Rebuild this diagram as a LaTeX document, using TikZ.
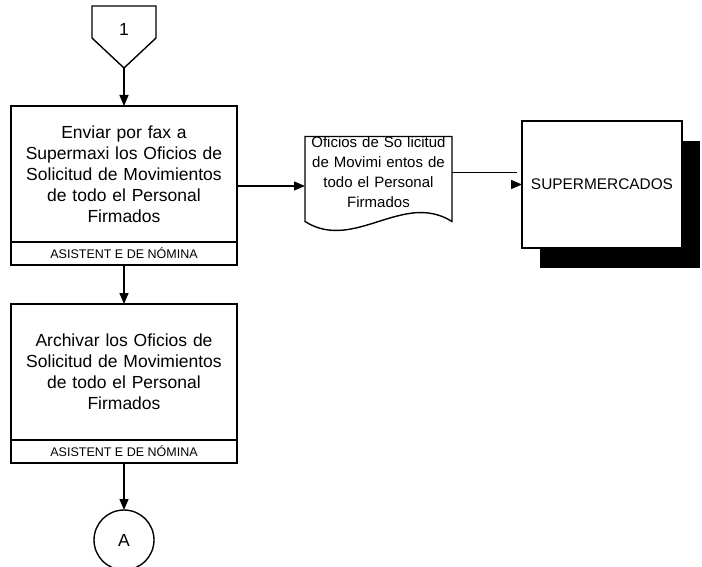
\documentclass[tikz,border=0pt]{standalone}
\usepackage{fontspec}
\setmainfont{Liberation Sans}
\usetikzlibrary{arrows.meta,positioning,shadows}

\begin{document}
\begin{tikzpicture}[>={Triangle[length=11pt,width=9pt]},line width=1.4pt,
  font=\fontsize{17.5}{21}\selectfont,
  task node/.style={rectangle,draw,outer sep=0pt,minimum width=226pt,minimum height=136pt,
    text width=220pt,align=center,inner sep=0pt},
  role node/.style={rectangle,draw,outer sep=0pt,minimum width=226pt,minimum height=23pt,
    inner sep=0pt,font=\fontsize{12.5}{14}\selectfont},
  conn node/.style={rectangle,outer sep=0pt,inner sep=0pt,minimum width=64pt,minimum height=32pt},
  end node/.style={circle,draw,outer sep=0pt,inner sep=0pt,minimum size=60pt},
  doc node/.style={rectangle,outer sep=0pt,inner sep=0pt,minimum width=147pt,minimum height=68pt,
    text width=147pt,align=center,font=\fontsize{15}{20}\selectfont},
  ext node/.style={rectangle,draw,fill=white,outer sep=0pt,minimum width=160pt,minimum height=127pt,
    font=\fontsize{15.4}{18}\selectfont,
    drop shadow={shadow xshift=18pt,shadow yshift=-20pt,opacity=1,fill=black}},
  thin line/.style={line width=0.8pt}]
  \useasboundingbox (0,0) rectangle (702pt,-567pt);

  % off-page connector
  \node[conn node, label={[yshift=-7pt]center:1}] (one) at (124pt,-22pt) {};
  \draw (one.north west) -- (one.north east) -- (one.south east)
    -- ([yshift=-30pt]one.south) -- (one.south west) -- cycle;
  \coordinate (onetip) at ([yshift=-30pt]one.south);

  % tasks
  \node[task node, below=68pt of one] (send) {Enviar por fax a\\ Supermaxi los Oficios de\\
    Solicitud de Movimientos\\ de todo el Personal\\ Firmados};
  \node[role node, below=0pt of send] (sendrole) {ASISTENT E DE NÓMINA};
  \node[task node, below=39pt of sendrole] (file) {Archivar los Oficios de\\
    Solicitud de Movimientos\\ de todo el Personal\\ Firmados};
  \node[role node, below=0pt of file] (filerole) {ASISTENT E DE NÓMINA};
  \node[end node, below=47pt of filerole] (A) {A};

  % document
  \node[doc node, right=68pt of send, yshift=2pt] (docu) {Oficios de So licitud\\
    de Movimi entos de\\ todo el Personal\\ Firmados};
  \draw (docu.north west) -- (docu.north east) -- ([yshift=-14pt]docu.south east)
    .. controls +(-49pt,31pt) and +(49pt,-31pt) .. ([yshift=-14pt]docu.south west) -- cycle;

  % external entity
  \node[ext node, right=70pt of docu, yshift=-12.5pt] (super) {SUPERMERCADOS};

  \draw[->] (onetip) -- (send);
  \draw[->] (sendrole) -- (file);
  \draw[->] (filerole) -- (A);
  \draw[->] ([yshift=-12pt]send.east) -- ([yshift=-12pt]send.east -| docu.west);
  \draw[thin line] (docu.east) -- ([xshift=-5pt]docu.east -| super.west);
  \draw[->] ([xshift=-10pt]super.west) -- (super.west);
\end{tikzpicture}
\end{document}
